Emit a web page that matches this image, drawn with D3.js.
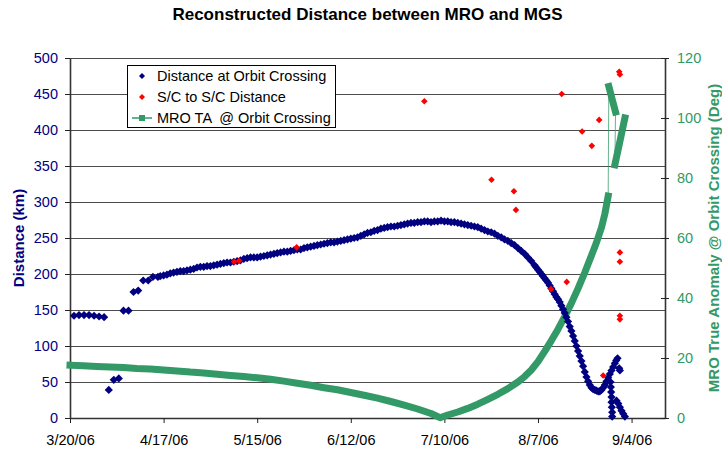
<!DOCTYPE html>
<html>
<head>
<meta charset="utf-8">
<script src="https://cdn.jsdelivr.net/npm/d3@7"></script>
<style>
  html, body { margin: 0; padding: 0; background: #fff; }
  svg { display: block; font-family: Arial, 'Liberation Sans', sans-serif; }
</style>
</head>
<body>
<div id="chart"></div>
<script>
// days counted from 3/20/06
const xTickDays = [0, 28, 56, 84, 112, 140, 168];
const xTickLabels = ['3/20/06', '4/17/06', '5/15/06', '6/12/06', '7/10/06', '8/7/06', '9/4/06'];
const leftTicks = [0, 50, 100, 150, 200, 250, 300, 350, 400, 450, 500];
const rightTicks = [0, 20, 40, 60, 80, 100, 120];

// Distance at Orbit Crossing (km)
const crossDays = [
  1.2, 2.7, 4.2, 5.7, 7.2, 8.7, 10.2, 11.6, 13.1, 14.6, 16.0, 17.5, 19.0, 20.4, 21.9, 23.4, 24.8, 26.3,
  27, 28, 29, 30, 31, 32, 33, 34, 35, 36, 37, 38, 39, 40, 41, 42, 43, 44, 45, 46, 47, 48, 49, 50,
  51, 52, 53, 54, 55, 56, 57, 58, 59, 60, 61, 62, 63, 64, 65, 66, 67, 68, 69, 70, 71, 72, 73, 74,
  75, 76, 77, 78, 79, 80, 81, 82, 83, 84, 85, 86, 87, 88, 89, 90, 91, 92, 93, 94, 95, 96, 97, 98,
  99, 100, 101, 102, 103, 104, 105, 106, 107, 108, 109, 110, 111, 112, 113, 114, 115, 116, 117, 118,
  119, 120, 121, 122, 123, 124, 125, 126, 127, 128, 129, 130, 131, 132, 133, 134, 135, 136, 137, 138, 139,
  139.5, 140, 140.5, 141, 141.5, 142, 142.5, 143, 143.5, 144, 144.5, 145, 145.5, 146, 146.5, 147, 147.5,
  148, 148.5, 149, 149.5, 150, 150.5, 151, 151.5, 152, 152.5, 153, 153.5, 154, 154.5, 155, 155.5, 156,
  156.5, 157, 157.5, 158, 158.5, 159, 159.5, 160, 160.5, 161, 161.5, 162, 162.5, 163, 163.4, 163.8,
  161.7, 161.8, 161.9, 162.0, 162.0, 162.1, 162.2, 162.2,
  163.5, 164.0, 164.5, 165.0, 165.5, 166.0,
  164.3, 164.5
];
const crossKm = [
  142, 143, 143, 143, 142, 141, 140, 39, 53, 55, 149, 149, 175, 177, 191, 191, 196, 196,
  197, 198, 199, 201, 202, 203, 204, 204, 205, 206, 207, 209, 210, 210, 211, 211, 212, 213, 214, 215, 216, 216, 217, 218,
  219, 221, 222, 223, 223, 223, 224, 225, 226, 227, 228, 229, 230, 231, 231, 232, 233, 234, 234, 236, 237, 238, 239, 240,
  241, 242, 243, 244, 244, 245, 246, 247, 248, 249, 250, 251, 253, 255, 257, 258, 260, 261, 263, 264, 265, 266, 266, 267,
  268, 269, 270, 271, 271, 272, 272, 273, 273, 272, 273, 273, 274, 273, 273, 272, 272, 271, 270, 269,
  268, 267, 266, 265, 263, 261, 259, 258, 256, 253, 251, 248, 246, 243, 240, 236, 232, 228, 223, 218, 212,
  209, 206, 203, 200, 197, 194, 191, 188, 184, 180, 176, 172, 168, 165, 161, 156, 151,
  146, 140, 134, 127, 121, 114, 107, 100, 93, 86, 79, 72, 64, 57, 51, 46, 42,
  40, 39, 38, 37, 37, 39, 42, 46, 51, 56, 61, 66, 71, 76, 80, 83,
  50, 43, 36, 29, 22, 15, 8, 2,
  24, 20, 15, 10, 6, 2,
  69, 66
];

// S/C to S/C Distance (km)
const scDays = [49.1, 50.6, 67.8, 106.0, 126.1, 132.8, 133.4, 143.9, 147.1, 148.6, 153.2, 156.1, 158.3, 159.5, 164.3, 164.5, 164.5, 164.5, 164.5, 164.5];
const scKm = [217, 218.5, 237, 440, 331, 315, 289, 179, 450, 189, 398, 378, 414, 59, 481, 477, 230, 217, 142, 137];

// MRO TA @ Orbit Crossing (deg)
const taDays = [
  0, 4, 8, 12, 16, 20, 24, 28, 32, 36, 40, 44, 48, 52, 56, 60, 64, 68, 72, 76, 80, 84, 88, 92, 96, 100, 104, 108, 110.7,
  113, 116, 119, 122, 125, 128, 131, 134, 136, 138, 140, 142, 144, 146, 148, 150, 152, 154, 156, 157.5, 159, 160, 161,
  161.2, 162.2, 163.2, 163.0, 164.5, 166.0
];
const taDeg = [
  17.6, 17.4, 17.2, 17.0, 16.8, 16.5, 16.3, 16.0, 15.7, 15.3, 15.0, 14.6, 14.2, 13.8, 13.4, 12.9, 12.3, 11.6, 10.9, 10.1, 9.4, 8.5, 7.6, 6.6, 5.5, 4.3, 3.0, 1.5, 0.1,
  1.0, 2.0, 3.2, 4.6, 6.2, 7.9, 9.8, 12.0, 13.8, 16.0, 18.8, 22.2, 25.8, 29.6, 33.8, 38.3, 43.2, 48.5, 54.2, 58.5, 63.5, 68, 74,
  110.5, 106.2, 102, 84.4, 92.2, 100
];

const W = 722, H = 451;
const margin = { top: 58, right: 57, bottom: 33, left: 70 };
const w = W - margin.left - margin.right;
const h = H - margin.top - margin.bottom;

const NAVY = '#000080', RED = '#ff0000', GREEN = '#339966';

const svg = d3.select('#chart').append('svg').attr('width', W).attr('height', H);
const g = svg.append('g').attr('transform', `translate(${margin.left},${margin.top})`);

const x = d3.scaleLinear().domain([0, 178]).range([0, w]);
const yL = d3.scaleLinear().domain([0, 500]).range([h, 0]);
const yR = d3.scaleLinear().domain([0, 120]).range([h, 0]);

// Grid
g.append('g').selectAll('line')
  .data(leftTicks.filter(d => d > 0)).enter().append('line')
  .attr('x1', 0).attr('x2', w)
  .attr('y1', d => Math.round(yL(d)) + 0.5).attr('y2', d => Math.round(yL(d)) + 0.5)
  .attr('stroke', '#4d4d4d').attr('stroke-width', 1);

// Axes
const xAxis = g.append('g').attr('transform', `translate(0,${h})`)
  .call(d3.axisBottom(x).tickValues(xTickDays).tickFormat((d, i) => xTickLabels[i])
    .tickSize(5).tickSizeOuter(0).tickPadding(12));
xAxis.selectAll('text').attr('fill', '#000').attr('font-size', '14.5px').attr('font-family', 'Arial, sans-serif');

const yAxis = g.append('g')
  .call(d3.axisLeft(yL).tickValues(leftTicks).tickSize(5).tickSizeOuter(0).tickPadding(7));
yAxis.selectAll('text').attr('fill', NAVY).attr('font-size', '14.5px').attr('font-family', 'Arial, sans-serif');

const rAxis = g.append('g').attr('transform', `translate(${w},0)`)
  .call(d3.axisRight(yR).tickValues(rightTicks).tickSize(4).tickSizeOuter(0).tickPadding(8));
rAxis.selectAll('.tick line').attr('x1', -4);
rAxis.selectAll('text').attr('fill', GREEN).attr('font-size', '14.5px').attr('font-family', 'Arial, sans-serif');

[xAxis, yAxis, rAxis].forEach(a => {
  a.selectAll('line').attr('stroke', '#222');
  a.select('.domain').attr('stroke', '#333').attr('stroke-width', 1.6);
});

// MRO TA series: thin connecting line + thick runs
const taPts = taDays.map((d, i) => [x(d), yR(taDeg[i])]);
const line = d3.line();
g.append('path').attr('d', line(taPts))
  .attr('fill', 'none').attr('stroke', GREEN).attr('stroke-width', 1).attr('opacity', 0.75);
const runs = [];
taPts.forEach((p, i) => {
  if (i === 0 || Math.abs(taDeg[i] - taDeg[i - 1]) > 15) runs.push([]);
  runs[runs.length - 1].push(p);
});
g.append('g').selectAll('path').data(runs).enter().append('path')
  .attr('d', d => line(d))
  .attr('fill', 'none').attr('stroke', GREEN).attr('stroke-width', 7)
  .attr('stroke-linejoin', 'round').attr('stroke-linecap', 'square');

// diamonds
const diamond = r => `M0,${-r}L${r},0L0,${r}L${-r},0Z`;

g.append('g').selectAll('path')
  .data(crossDays.map((d, i) => ({ d, v: crossKm[i] }))).enter().append('path')
  .attr('d', diamond(4.1))
  .attr('transform', p => `translate(${x(p.d)},${yL(p.v)})`)
  .attr('fill', NAVY);

g.append('g').selectAll('path')
  .data(scDays.map((d, i) => ({ d, v: scKm[i] }))).enter().append('path')
  .attr('d', diamond(3.3))
  .attr('transform', p => `translate(${x(p.d)},${yL(p.v)})`)
  .attr('fill', RED);

// Titles
svg.append('text').attr('x', margin.left + w / 2).attr('y', 19.5)
  .attr('text-anchor', 'middle').attr('font-size', '17px').attr('font-weight', 'bold')
  .text('Reconstructed Distance between MRO and MGS');

svg.append('text')
  .attr('transform', `translate(19,${margin.top + h / 2}) rotate(-90)`)
  .attr('text-anchor', 'middle').attr('dy', '0.35em')
  .attr('font-size', '15px').attr('font-weight', 'bold').attr('fill', NAVY)
  .text('Distance (km)');

svg.append('text')
  .attr('transform', `translate(714,${margin.top + h / 2}) rotate(-90)`)
  .attr('text-anchor', 'middle').attr('dy', '0.35em')
  .attr('font-size', '15px').attr('font-weight', 'bold').attr('fill', GREEN)
  .text('MRO True Anomaly @ Orbit Crossing (Deg)');

// Legend
const lg = svg.append('g').attr('transform', 'translate(127,65)');
lg.append('rect').attr('x', 0.5).attr('y', 0.5).attr('width', 208).attr('height', 62)
  .attr('fill', '#fff').attr('stroke', '#000').attr('stroke-width', 1);
const legendItems = ['Distance at Orbit Crossing', 'S/C to S/C Distance', 'MRO TA  @ Orbit Crossing'];
const rowY = [11, 32, 53];
lg.append('path').attr('d', diamond(3)).attr('transform', `translate(15,${rowY[0]})`).attr('fill', NAVY);
lg.append('path').attr('d', diamond(3)).attr('transform', `translate(15,${rowY[1]})`).attr('fill', RED);
lg.append('line').attr('x1', 5).attr('x2', 25).attr('y1', rowY[2]).attr('y2', rowY[2])
  .attr('stroke', GREEN).attr('stroke-width', 1.5);
lg.append('rect').attr('x', 12).attr('y', rowY[2] - 3).attr('width', 6).attr('height', 6).attr('fill', GREEN);
lg.selectAll('text.item').data(legendItems).enter().append('text')
  .attr('class', 'item')
  .attr('x', 30).attr('y', (d, i) => rowY[i]).attr('dy', '0.36em')
  .attr('font-size', '14.5px').attr('fill', '#000')
  .style('white-space', 'pre')
  .text(d => d);
</script>
</body>
</html>
